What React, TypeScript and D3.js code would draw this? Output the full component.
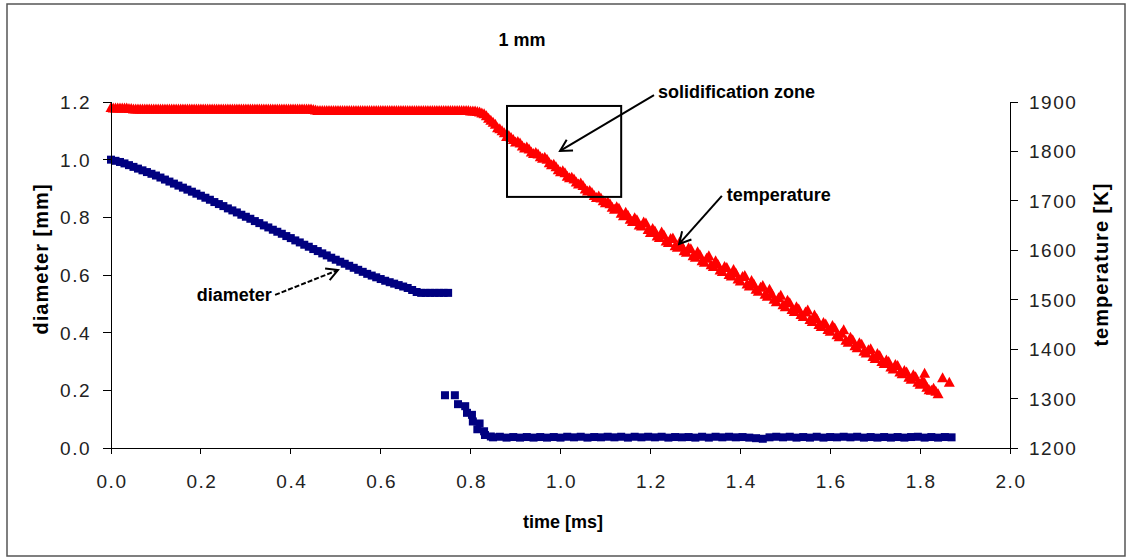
import React from 'react';
import * as d3 from 'd3';

const W = 1131;
const H = 559;

const titleText = '1 mm';
const xTitle = 'time [ms]';
const yLeftTitle = 'diameter [mm]';
const yRightTitle = 'temperature [K]';

const xTicks = [0, 0.2, 0.4, 0.6, 0.8, 1.0, 1.2, 1.4, 1.6, 1.8, 2.0];
const yLeftTicks = [0, 0.2, 0.4, 0.6, 0.8, 1.0, 1.2];
const yRightTicks = [1200, 1300, 1400, 1500, 1600, 1700, 1800, 1900];

// diameter [mm] vs time [ms] – liquid drop part
const diameterA: [number, number][] = [
  [0.00, 1.000], [0.01, 0.996], [0.02, 0.992], [0.03, 0.987], [0.04, 0.981], [0.05, 0.975],
  [0.06, 0.969], [0.07, 0.963], [0.08, 0.957], [0.09, 0.951], [0.10, 0.945], [0.11, 0.938],
  [0.12, 0.931], [0.13, 0.924], [0.14, 0.917], [0.15, 0.910], [0.16, 0.903], [0.17, 0.896],
  [0.18, 0.889], [0.19, 0.882], [0.20, 0.875], [0.21, 0.868], [0.22, 0.861], [0.23, 0.853],
  [0.24, 0.846], [0.25, 0.839], [0.26, 0.831], [0.27, 0.824], [0.28, 0.817], [0.29, 0.809],
  [0.30, 0.802], [0.31, 0.795], [0.32, 0.787], [0.33, 0.780], [0.34, 0.772], [0.35, 0.765],
  [0.36, 0.757], [0.37, 0.750], [0.38, 0.743], [0.39, 0.735], [0.40, 0.728], [0.41, 0.720],
  [0.42, 0.713], [0.43, 0.705], [0.44, 0.698], [0.45, 0.690], [0.46, 0.683], [0.47, 0.675],
  [0.48, 0.668], [0.49, 0.660], [0.50, 0.653], [0.51, 0.646], [0.52, 0.639], [0.53, 0.632],
  [0.54, 0.625], [0.55, 0.618], [0.56, 0.611], [0.57, 0.604], [0.58, 0.598], [0.59, 0.592],
  [0.60, 0.586], [0.61, 0.580], [0.62, 0.575], [0.63, 0.570], [0.64, 0.565], [0.65, 0.560],
  [0.66, 0.555], [0.67, 0.548], [0.68, 0.541], [0.69, 0.538], [0.70, 0.538], [0.71, 0.538],
  [0.72, 0.538], [0.73, 0.538], [0.74, 0.538], [0.75, 0.538],
];

// diameter [mm] vs time [ms] – after the jump
const diameterB: [number, number][] = [
  [0.743, 0.183], [0.765, 0.183], [0.772, 0.152], [0.788, 0.145], [0.792, 0.122], [0.803, 0.115],
  [0.805, 0.092], [0.820, 0.085], [0.815, 0.065], [0.830, 0.058], [0.832, 0.045], [0.845, 0.040],
  [0.850, 0.037], [0.865, 0.039], [0.880, 0.036], [0.895, 0.038], [0.910, 0.036], [0.925, 0.038],
  [0.940, 0.036], [0.955, 0.038], [0.970, 0.036], [0.985, 0.038], [1.000, 0.036], [1.015, 0.039],
  [1.030, 0.037], [1.045, 0.039], [1.060, 0.036], [1.075, 0.038], [1.090, 0.037], [1.105, 0.039],
  [1.120, 0.037], [1.135, 0.039], [1.150, 0.036], [1.165, 0.039], [1.180, 0.037], [1.195, 0.039],
  [1.210, 0.037], [1.225, 0.039], [1.240, 0.036], [1.255, 0.038], [1.270, 0.037], [1.285, 0.038],
  [1.300, 0.036], [1.315, 0.039], [1.330, 0.036], [1.345, 0.039], [1.360, 0.037], [1.375, 0.039],
  [1.390, 0.037], [1.405, 0.038], [1.420, 0.036], [1.435, 0.034], [1.450, 0.032], [1.465, 0.037],
  [1.480, 0.039], [1.495, 0.037], [1.510, 0.039], [1.525, 0.036], [1.540, 0.038], [1.555, 0.036],
  [1.570, 0.039], [1.585, 0.036], [1.600, 0.038], [1.615, 0.037], [1.630, 0.039], [1.645, 0.037],
  [1.660, 0.039], [1.675, 0.036], [1.690, 0.038], [1.705, 0.036], [1.720, 0.038], [1.735, 0.036],
  [1.750, 0.038], [1.765, 0.036], [1.780, 0.038], [1.795, 0.039], [1.810, 0.036], [1.825, 0.038],
  [1.840, 0.036], [1.855, 0.038], [1.870, 0.037],
];

// temperature [K] vs time [ms] – samples on the 0.01 ms grid
const temperature: [number, number][] = [
  [0.00, 1890], [0.01, 1889], [0.02, 1889], [0.03, 1889], [0.04, 1888], [0.05, 1887],
  [0.06, 1887], [0.07, 1887], [0.08, 1887], [0.09, 1887], [0.10, 1887], [0.11, 1887],
  [0.12, 1887], [0.13, 1887], [0.14, 1887], [0.15, 1887], [0.16, 1887], [0.17, 1887],
  [0.18, 1887], [0.19, 1887], [0.20, 1887], [0.21, 1887], [0.22, 1887], [0.23, 1887],
  [0.24, 1887], [0.25, 1887], [0.26, 1887], [0.27, 1887], [0.28, 1887], [0.29, 1887],
  [0.30, 1887], [0.31, 1887], [0.32, 1887], [0.33, 1887], [0.34, 1887], [0.35, 1887],
  [0.36, 1887], [0.37, 1887], [0.38, 1887], [0.39, 1887], [0.40, 1887], [0.41, 1887],
  [0.42, 1887], [0.43, 1887], [0.44, 1887], [0.45, 1886], [0.46, 1884], [0.47, 1884],
  [0.48, 1884], [0.49, 1884], [0.50, 1884], [0.51, 1884], [0.52, 1884], [0.53, 1884],
  [0.54, 1884], [0.55, 1884], [0.56, 1884], [0.57, 1884], [0.58, 1884], [0.59, 1884],
  [0.60, 1884], [0.61, 1884], [0.62, 1884], [0.63, 1884], [0.64, 1884], [0.65, 1884],
  [0.66, 1884], [0.67, 1884], [0.68, 1884], [0.69, 1884], [0.70, 1884], [0.71, 1884],
  [0.72, 1884], [0.73, 1884], [0.74, 1884], [0.75, 1884], [0.76, 1884], [0.77, 1884],
  [0.78, 1884], [0.79, 1884], [0.80, 1883], [0.81, 1883],
  [0.82, 1881], [0.83, 1877], [0.84, 1868], [0.85, 1860], [0.86, 1849], [0.87, 1843],
  [0.88, 1831], [0.89, 1829], [0.90, 1820], [0.91, 1818], [0.92, 1808], [0.93, 1806],
  [0.94, 1797], [0.95, 1796], [0.96, 1787], [0.97, 1785], [0.98, 1774], [0.99, 1770],
  [1.00, 1760], [1.01, 1758], [1.02, 1748], [1.03, 1745], [1.04, 1735], [1.05, 1732],
  [1.06, 1721], [1.07, 1718], [1.08, 1708], [1.09, 1707], [1.10, 1697], [1.11, 1695],
  [1.12, 1684], [1.13, 1686], [1.14, 1671], [1.15, 1672], [1.16, 1659], [1.17, 1663],
  [1.18, 1650], [1.19, 1656], [1.20, 1637], [1.21, 1640], [1.22, 1627], [1.23, 1632],
  [1.24, 1617], [1.25, 1626], [1.26, 1607], [1.27, 1610], [1.28, 1597], [1.29, 1604],
  [1.30, 1587], [1.31, 1592], [1.32, 1577], [1.33, 1590], [1.34, 1568], [1.35, 1573],
  [1.36, 1558], [1.37, 1566], [1.38, 1549], [1.39, 1555], [1.40, 1539], [1.41, 1550],
  [1.42, 1529], [1.43, 1533], [1.44, 1518], [1.45, 1530], [1.46, 1508], [1.47, 1513],
  [1.48, 1497], [1.49, 1510], [1.50, 1487], [1.51, 1495], [1.52, 1477], [1.53, 1482],
  [1.54, 1467], [1.55, 1480], [1.56, 1457], [1.57, 1463], [1.58, 1447], [1.59, 1452],
  [1.60, 1437], [1.61, 1444], [1.62, 1426], [1.63, 1440], [1.64, 1415], [1.65, 1420],
  [1.66, 1404], [1.67, 1411], [1.68, 1393], [1.69, 1402], [1.70, 1382], [1.71, 1388],
  [1.72, 1372], [1.73, 1376], [1.74, 1361], [1.75, 1368], [1.76, 1351], [1.77, 1355],
  [1.78, 1340], [1.79, 1345], [1.80, 1330], [1.81, 1333], [1.82, 1319], [1.83, 1322],
  [1.84, 1311], [1.81, 1352], [1.85, 1343], [1.865, 1334],
];

// temperature [K] vs time [ms] – intermediate samples
const temperatureMid: [number, number][] = [
  [0.005, 1889], [0.015, 1889], [0.025, 1889], [0.035, 1889], [0.045, 1888], [0.055, 1887],
  [0.065, 1887], [0.075, 1887], [0.085, 1887], [0.095, 1887], [0.105, 1887], [0.115, 1887],
  [0.125, 1887], [0.135, 1887], [0.145, 1887], [0.155, 1887], [0.165, 1887], [0.175, 1887],
  [0.185, 1887], [0.195, 1887], [0.205, 1887], [0.215, 1887], [0.225, 1887], [0.235, 1887],
  [0.245, 1887], [0.255, 1887], [0.265, 1887], [0.275, 1887], [0.285, 1887], [0.295, 1887],
  [0.305, 1887], [0.315, 1887], [0.325, 1887], [0.335, 1887], [0.345, 1887], [0.355, 1887],
  [0.365, 1887], [0.375, 1887], [0.385, 1887], [0.395, 1887], [0.405, 1887], [0.415, 1887],
  [0.425, 1887], [0.435, 1887], [0.445, 1887], [0.455, 1885], [0.465, 1884], [0.475, 1884],
  [0.485, 1884], [0.495, 1884], [0.505, 1884], [0.515, 1884], [0.525, 1884], [0.535, 1884],
  [0.545, 1884], [0.555, 1884], [0.565, 1884], [0.575, 1884], [0.585, 1884], [0.595, 1884],
  [0.605, 1884], [0.615, 1884], [0.625, 1884], [0.635, 1884], [0.645, 1884], [0.655, 1884],
  [0.665, 1884], [0.675, 1884], [0.685, 1884], [0.695, 1884], [0.705, 1884], [0.715, 1884],
  [0.725, 1884], [0.735, 1884], [0.745, 1884], [0.755, 1884], [0.765, 1884], [0.775, 1884],
  [0.785, 1884], [0.795, 1884], [0.805, 1883], [0.815, 1882],
  [0.825, 1879], [0.835, 1873], [0.845, 1864], [0.855, 1856], [0.865, 1847], [0.875, 1839],
  [0.885, 1833], [0.895, 1825], [0.905, 1821], [0.915, 1812], [0.925, 1810], [0.935, 1800],
  [0.945, 1799], [0.955, 1790], [0.965, 1789], [0.975, 1778], [0.985, 1775], [0.995, 1764],
  [1.005, 1762], [1.015, 1751], [1.025, 1749], [1.035, 1739], [1.045, 1737], [1.055, 1725],
  [1.065, 1722], [1.075, 1712], [1.085, 1711], [1.095, 1701], [1.105, 1699], [1.115, 1688],
  [1.125, 1689], [1.135, 1676], [1.145, 1678], [1.155, 1664], [1.165, 1667], [1.175, 1652],
  [1.185, 1658], [1.195, 1643], [1.205, 1645], [1.215, 1630], [1.225, 1638], [1.235, 1620],
  [1.245, 1625], [1.255, 1610], [1.265, 1618], [1.275, 1600], [1.285, 1606], [1.295, 1590],
  [1.305, 1598], [1.315, 1580], [1.325, 1585], [1.335, 1572], [1.345, 1580], [1.355, 1561],
  [1.365, 1568], [1.375, 1552], [1.385, 1562], [1.395, 1543], [1.405, 1548], [1.415, 1533],
  [1.425, 1540], [1.435, 1522], [1.445, 1526], [1.455, 1512], [1.465, 1522], [1.475, 1502],
  [1.485, 1505], [1.495, 1491], [1.505, 1500], [1.515, 1481], [1.525, 1487], [1.535, 1471],
  [1.545, 1476], [1.555, 1461], [1.565, 1470], [1.575, 1451], [1.585, 1455], [1.595, 1441],
  [1.605, 1449], [1.615, 1430], [1.625, 1433], [1.635, 1419], [1.645, 1425], [1.655, 1408],
  [1.665, 1414], [1.675, 1397], [1.685, 1400], [1.695, 1386], [1.705, 1392], [1.715, 1376],
  [1.725, 1379], [1.735, 1365], [1.745, 1370], [1.755, 1355], [1.765, 1358], [1.775, 1344],
  [1.785, 1349], [1.795, 1334], [1.805, 1337], [1.815, 1324], [1.825, 1318], [1.835, 1316],
];

const NAVY = '#000080';
const RED = '#ff0000';
const FONT = '"Liberation Sans", Arial, sans-serif';

function Arrow({ x1, y1, x2, y2, dashed }: { x1: number; y1: number; x2: number; y2: number; dashed?: boolean }) {
  const ang = Math.atan2(y1 - y2, x1 - x2);
  const L = 13;
  const a = 0.5;
  const w1x = x2 + L * Math.cos(ang + a);
  const w1y = y2 + L * Math.sin(ang + a);
  const w2x = x2 + L * Math.cos(ang - a);
  const w2y = y2 + L * Math.sin(ang - a);
  return (
    <g stroke="#000" strokeWidth={2} fill="none">
      <line x1={x1} y1={y1} x2={x2} y2={y2} strokeDasharray={dashed ? '5,2' : undefined} />
      <polyline points={`${w1x},${w1y} ${x2},${y2} ${w2x},${w2y}`} />
    </g>
  );
}

export default function App() {
  const x = d3.scaleLinear().domain([0, 2]).range([111, 1010]);
  const yL = d3.scaleLinear().domain([0, 1.2]).range([448, 102]);
  const yR = d3.scaleLinear().domain([1200, 1900]).range([448, 102]);
  const f1 = d3.format('.1f');

  const sq = 8;
  const triW = 11;
  const triH = 10;
  const tri = (cx: number, cy: number) =>
    `M${cx},${cy - triH / 2}L${cx + triW / 2},${cy + triH / 2}L${cx - triW / 2},${cy + triH / 2}Z`;

  const x0 = x(0);
  const x2 = x(2);
  const yb = yL(0);
  const yt = yL(1.2);

  const tickStyle = { fontFamily: FONT, fontSize: 19, fill: '#222', letterSpacing: 1.5 } as const;
  const boldStyle = { fontFamily: FONT, fontSize: 18, fontWeight: 700, fill: '#000' } as const;
  const vTitleStyle = { fontFamily: FONT, fontSize: 20, fontWeight: 700, fill: '#000' } as const;

  const temps = temperature.concat(temperatureMid);

  return (
    <svg width={W} height={H} style={{ position: 'absolute', left: 0, top: 0, background: '#fff' }}>
      <rect x={0} y={0} width={W} height={H} fill="#fff" />
      <rect x={7} y={4} width={1118} height={552} fill="none" stroke="#555" strokeWidth={1.5} />

      {/* title */}
      <text x={522} y={46} textAnchor="middle" style={boldStyle}>{titleText}</text>

      {/* temperature markers */}
      <g fill={RED}>
        {temps.map((d, i) => (
          <path key={i} d={tri(x(d[0]), yR(d[1]))} />
        ))}
      </g>

      {/* diameter markers */}
      <g fill={NAVY}>
        {diameterA.concat(diameterB).map((d, i) => (
          <rect key={i} x={x(d[0]) - sq / 2} y={yL(d[1]) - sq / 2} width={sq} height={sq} />
        ))}
      </g>

      {/* axes */}
      <g stroke="#000" strokeWidth={1} fill="none" shapeRendering="crispEdges">
        <line x1={x0 - 8} y1={yb} x2={x2 + 8} y2={yb} />
        <line x1={x0} y1={yt} x2={x0} y2={yb} />
        <line x1={x2} y1={yt} x2={x2} y2={yb} />
        {xTicks.map((t) => (
          <line key={'xt' + t} x1={x(t)} y1={yb} x2={x(t)} y2={yb + 6} />
        ))}
        {yLeftTicks.map((t) => (
          <line key={'yl' + t} x1={x0 - 8} y1={yL(t)} x2={x0} y2={yL(t)} />
        ))}
        {yRightTicks.map((t) => (
          <line key={'yr' + t} x1={x2} y1={yR(t)} x2={x2 + 8} y2={yR(t)} />
        ))}
      </g>

      {/* tick labels */}
      {xTicks.map((t) => (
        <text key={'xl' + t} x={x(t) + 1} y={yb + 40} textAnchor="middle" style={tickStyle}>{f1(t)}</text>
      ))}
      {yLeftTicks.map((t) => (
        <text key={'yll' + t} x={x0 - 20} y={yL(t) + 7} textAnchor="end" style={tickStyle}>{f1(t)}</text>
      ))}
      {yRightTicks.map((t) => (
        <text key={'yrl' + t} x={x2 + 19} y={yR(t) + 7} textAnchor="start" style={tickStyle}>{t}</text>
      ))}

      {/* axis titles */}
      <text x={563} y={528} textAnchor="middle" style={boldStyle}>{xTitle}</text>
      <text
        transform={`translate(48,${yL(0.654)}) rotate(-90)`}
        textAnchor="middle"
        textLength={150}
        lengthAdjust="spacing"
        style={vTitleStyle}
      >
        {yLeftTitle}
      </text>
      <text
        transform={`translate(1108,${yR(1570)}) rotate(-90)`}
        textAnchor="middle"
        textLength={163}
        lengthAdjust="spacing"
        style={vTitleStyle}
      >
        {yRightTitle}
      </text>

      {/* solidification zone box + annotations */}
      <rect
        x={x(0.881)}
        y={yR(1892)}
        width={x(1.135) - x(0.881)}
        height={yR(1708) - yR(1892)}
        fill="none"
        stroke="#000"
        strokeWidth={2}
      />
      <text x={x(1.217)} y={yR(1908)} style={boldStyle}>solidification zone</text>
      <Arrow x1={x(1.208)} y1={yR(1914)} x2={x(0.999)} y2={yR(1801)} />

      <text x={x(1.37)} y={yR(1700)} style={boldStyle}>temperature</text>
      <Arrow x1={x(1.359)} y1={yR(1710)} x2={x(1.264)} y2={yR(1613)} />

      <text x={x(0.191)} y={yL(0.51)} style={boldStyle}>diameter</text>
      <Arrow x1={x(0.365)} y1={yL(0.531)} x2={x(0.505)} y2={yL(0.617)} dashed />
    </svg>
  );
}
